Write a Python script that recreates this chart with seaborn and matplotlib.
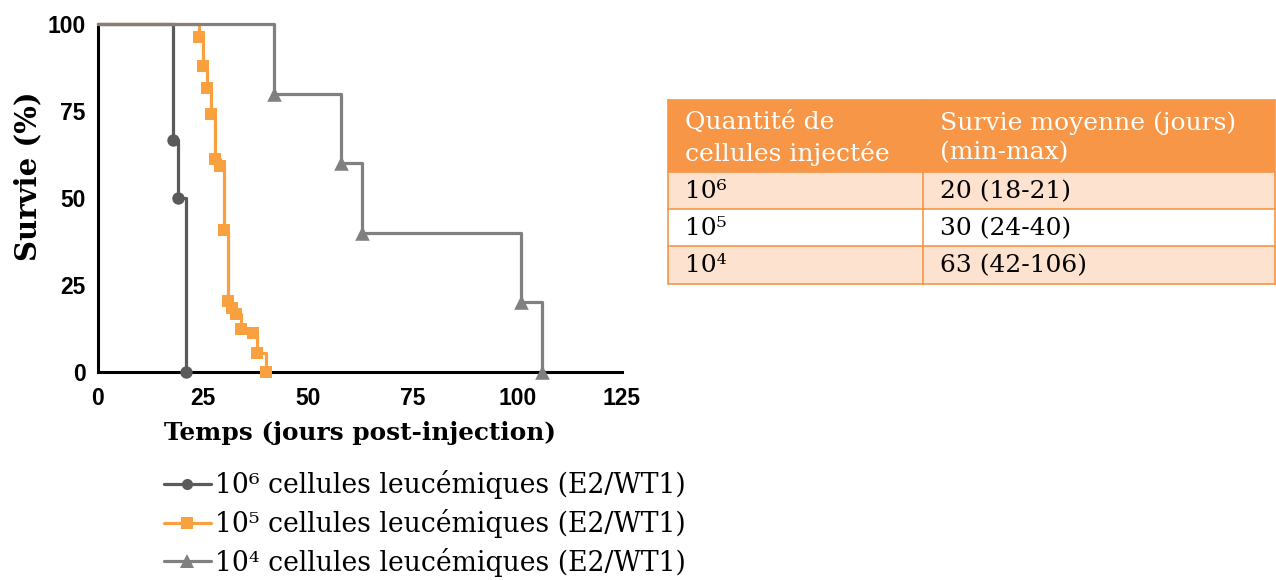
import matplotlib
matplotlib.use("Agg")
import matplotlib.pyplot as plt
from matplotlib.lines import Line2D
from matplotlib.patches import Rectangle
import seaborn as sns
import pandas as pd

# Kaplan-Meier survival, events per group (day, % surviving after the event)
days_1e6 = [18, 19, 21]
surv_1e6 = [66.7, 50.0, 0.0]

days_1e5 = [24, 25, 26, 27, 28, 29, 30, 31, 32, 33, 34, 37, 38, 40]
surv_1e5 = [96.3, 88.0, 81.5, 74.0, 61.1, 59.3, 40.7, 20.4, 18.5, 16.7, 12.5, 11.1, 5.6, 0.0]

days_1e4 = [42, 58, 63, 101, 106]
surv_1e4 = [80.0, 60.0, 40.0, 20.0, 0.0]

group_labels = ["10\u2076 cellules leucémiques (E2/WT1)",
                "10\u2075 cellules leucémiques (E2/WT1)",
                "10\u2074 cellules leucémiques (E2/WT1)"]
group_colors = ["#5a5a5a", "#f9a03f", "#808080"]
group_markers = ["o", "s", "^"]

x_ticks = [0, 25, 50, 75, 100, 125]
y_ticks = [0, 25, 50, 75, 100]

table_header = ["Quantité de\ncellules injectée", "Survie moyenne (jours)\n(min-max)"]
table_doses = ["10\u2076", "10\u2075", "10\u2074"]
table_survival = ["20 (18-21)", "30 (24-40)", "63 (42-106)"]

sns.set_style("white")
plt.rcParams.update({"text.color": "black", "axes.labelcolor": "black",
                     "xtick.color": "black", "ytick.color": "black"})

fig = plt.figure(figsize=(12.76, 5.8), dpi=100)
W, H = 1276, 580
ax = fig.add_axes([98 / W, 1 - 372 / H, (622 - 98) / W, (372 - 24) / H])

groups = [(days_1e6, surv_1e6), (days_1e5, surv_1e5), (days_1e4, surv_1e4)]
# draw the longest-lasting group first so the shorter curves sit on top
for i in [2, 1, 0]:
    d, s = groups[i]
    steps = pd.DataFrame({"day": [0] + d, "surv": [100.0] + s})
    marks = pd.DataFrame({"day": d, "surv": s})
    sns.lineplot(data=steps, x="day", y="surv", ax=ax, color=group_colors[i],
                 drawstyle="steps-post", estimator=None, sort=False,
                 linewidth=2.3, clip_on=False, zorder=3 + i)
    sns.scatterplot(data=marks, x="day", y="surv", ax=ax, color=group_colors[i],
                    marker=group_markers[i], s=80 if i != 2 else 110,
                    linewidth=0, clip_on=False, zorder=4 + i)

ax.set_xlim(0, 125)
ax.set_ylim(0, 100)
ax.set_xticks(x_ticks)
ax.set_yticks(y_ticks)
for side in ["top", "right"]:
    ax.spines[side].set_visible(False)
for side in ["left", "bottom"]:
    ax.spines[side].set_linewidth(2.2)
    ax.spines[side].set_color("black")
ax.tick_params(axis="both", direction="out", length=6, width=2, color="black",
               labelsize=16.5, pad=3)
ax.tick_params(axis="x", pad=5)
for lab in ax.get_xticklabels() + ax.get_yticklabels():
    lab.set_fontfamily("Liberation Sans")
    lab.set_fontweight("bold")

ax.set_xlabel("Temps (jours post-injection)", fontfamily="DejaVu Serif",
              fontweight="bold", fontsize=17.8, labelpad=8)
ax.set_ylabel("Survie (%)", fontfamily="DejaVu Serif", fontweight="bold",
              fontsize=21)
ax.yaxis.set_label_coords(-0.107, 0.563)

handles = [Line2D([0], [0], color=c, marker=m, linewidth=2.3,
                  markersize=8 if m != "^" else 10, markeredgewidth=0)
           for c, m in zip(group_colors, group_markers)]
fig.legend(handles, group_labels, loc="upper left",
           bbox_to_anchor=(164 / W, 1 - 470 / H), frameon=False,
           prop={"family": "DejaVu Serif", "size": 19.2},
           handlelength=1.75, handletextpad=0.15, labelspacing=0.37,
           borderaxespad=0, borderpad=0, numpoints=1)

# summary table drawn in pixel coordinates
tax = fig.add_axes([0, 0, 1, 1], zorder=-1)
tax.set_xlim(0, W)
tax.set_ylim(H, 0)
tax.axis("off")

orange = "#f79646"
light = "#fce2cf"
col_x = [668, 923, 1275]
row_y = [100, 172, 209, 246, 284]
row_fill = [orange, light, "white", light]
for r in range(4):
    tax.add_patch(Rectangle((col_x[0], row_y[r]), col_x[2] - col_x[0],
                            row_y[r + 1] - row_y[r], facecolor=row_fill[r],
                            edgecolor="none"))
for y in row_y:
    tax.plot([col_x[0], col_x[2]], [y, y], color=orange, linewidth=1.2)
for x in col_x:
    tax.plot([x, x], [row_y[0], row_y[-1]], color=orange, linewidth=1.2)

pad = 17
tfont = {"family": "DejaVu Serif", "size": 18}
for c, txt in enumerate(table_header):
    tax.text(col_x[c] + pad, (row_y[0] + row_y[1]) / 2 + 2, txt, color="white",
             va="center", ha="left", linespacing=1.35, **tfont)
for r in range(3):
    yc = (row_y[r + 1] + row_y[r + 2]) / 2 + 1
    tax.text(col_x[0] + pad, yc, table_doses[r], color="black", va="center",
             ha="left", **tfont)
    tax.text(col_x[1] + pad, yc, table_survival[r], color="black", va="center",
             ha="left", **tfont)

fig.savefig("out.png", dpi=100)
